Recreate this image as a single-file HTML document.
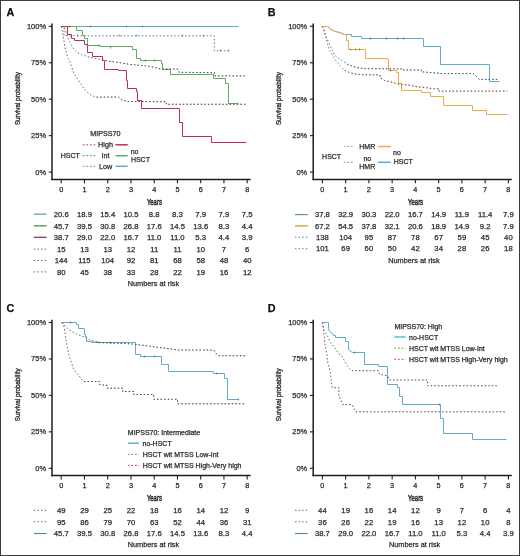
<!DOCTYPE html><html><head><meta charset="utf-8"><style>html,body{margin:0;padding:0;background:#fff;width:520px;height:556px;overflow:hidden}svg{will-change:transform}</style></head><body><svg xmlns="http://www.w3.org/2000/svg" width="520" height="556" viewBox="0 0 520 556" style="display:block">
<rect x="0" y="0" width="520" height="556" fill="#fff"/>
<g font-family='"Liberation Sans", sans-serif'>
<text x="6.60" y="15.90" font-size="10.8" text-anchor="start" font-weight="bold" fill="#111" stroke="#111" stroke-width="0.25" >A</text>
<line x1="52.00" y1="23.60" x2="52.00" y2="180.10" stroke="#1e1e1e" stroke-width="1.5"/>
<line x1="48.80" y1="26.30" x2="52.00" y2="26.30" stroke="#1e1e1e" stroke-width="1.1"/>
<text x="46.00" y="28.80" font-size="8" text-anchor="end" font-weight="normal" fill="#2b2b2b" stroke="#2b2b2b" stroke-width="0.25" textLength="19.03" lengthAdjust="spacingAndGlyphs">100%</text>
<line x1="48.80" y1="62.75" x2="52.00" y2="62.75" stroke="#1e1e1e" stroke-width="1.1"/>
<text x="46.00" y="65.25" font-size="8" text-anchor="end" font-weight="normal" fill="#2b2b2b" stroke="#2b2b2b" stroke-width="0.25" textLength="14.89" lengthAdjust="spacingAndGlyphs">75%</text>
<line x1="48.80" y1="99.20" x2="52.00" y2="99.20" stroke="#1e1e1e" stroke-width="1.1"/>
<text x="46.00" y="101.70" font-size="8" text-anchor="end" font-weight="normal" fill="#2b2b2b" stroke="#2b2b2b" stroke-width="0.25" textLength="14.89" lengthAdjust="spacingAndGlyphs">50%</text>
<line x1="48.80" y1="135.65" x2="52.00" y2="135.65" stroke="#1e1e1e" stroke-width="1.1"/>
<text x="46.00" y="138.15" font-size="8" text-anchor="end" font-weight="normal" fill="#2b2b2b" stroke="#2b2b2b" stroke-width="0.25" textLength="14.89" lengthAdjust="spacingAndGlyphs">25%</text>
<line x1="48.80" y1="172.10" x2="52.00" y2="172.10" stroke="#1e1e1e" stroke-width="1.1"/>
<text x="46.00" y="174.60" font-size="8" text-anchor="end" font-weight="normal" fill="#2b2b2b" stroke="#2b2b2b" stroke-width="0.25" textLength="10.75" lengthAdjust="spacingAndGlyphs">0%</text>
<line x1="51.25" y1="179.40" x2="250.60" y2="179.40" stroke="#1e1e1e" stroke-width="1.5"/>
<line x1="61.20" y1="179.40" x2="61.20" y2="183.20" stroke="#1e1e1e" stroke-width="1.1"/>
<text x="61.20" y="192.00" font-size="7.3" text-anchor="middle" font-weight="normal" fill="#2b2b2b" stroke="#2b2b2b" stroke-width="0.25" >0</text>
<line x1="84.45" y1="179.40" x2="84.45" y2="183.20" stroke="#1e1e1e" stroke-width="1.1"/>
<text x="84.45" y="192.00" font-size="7.3" text-anchor="middle" font-weight="normal" fill="#2b2b2b" stroke="#2b2b2b" stroke-width="0.25" >1</text>
<line x1="107.70" y1="179.40" x2="107.70" y2="183.20" stroke="#1e1e1e" stroke-width="1.1"/>
<text x="107.70" y="192.00" font-size="7.3" text-anchor="middle" font-weight="normal" fill="#2b2b2b" stroke="#2b2b2b" stroke-width="0.25" >2</text>
<line x1="130.95" y1="179.40" x2="130.95" y2="183.20" stroke="#1e1e1e" stroke-width="1.1"/>
<text x="130.95" y="192.00" font-size="7.3" text-anchor="middle" font-weight="normal" fill="#2b2b2b" stroke="#2b2b2b" stroke-width="0.25" >3</text>
<line x1="154.20" y1="179.40" x2="154.20" y2="183.20" stroke="#1e1e1e" stroke-width="1.1"/>
<text x="154.20" y="192.00" font-size="7.3" text-anchor="middle" font-weight="normal" fill="#2b2b2b" stroke="#2b2b2b" stroke-width="0.25" >4</text>
<line x1="177.45" y1="179.40" x2="177.45" y2="183.20" stroke="#1e1e1e" stroke-width="1.1"/>
<text x="177.45" y="192.00" font-size="7.3" text-anchor="middle" font-weight="normal" fill="#2b2b2b" stroke="#2b2b2b" stroke-width="0.25" >5</text>
<line x1="200.70" y1="179.40" x2="200.70" y2="183.20" stroke="#1e1e1e" stroke-width="1.1"/>
<text x="200.70" y="192.00" font-size="7.3" text-anchor="middle" font-weight="normal" fill="#2b2b2b" stroke="#2b2b2b" stroke-width="0.25" >6</text>
<line x1="223.95" y1="179.40" x2="223.95" y2="183.20" stroke="#1e1e1e" stroke-width="1.1"/>
<text x="223.95" y="192.00" font-size="7.3" text-anchor="middle" font-weight="normal" fill="#2b2b2b" stroke="#2b2b2b" stroke-width="0.25" >7</text>
<line x1="247.20" y1="179.40" x2="247.20" y2="183.20" stroke="#1e1e1e" stroke-width="1.1"/>
<text x="247.20" y="192.00" font-size="7.3" text-anchor="middle" font-weight="normal" fill="#2b2b2b" stroke="#2b2b2b" stroke-width="0.25" >8</text>
<text x="154.40" y="205.00" font-size="8.8" text-anchor="middle" fill="#2b2b2b" stroke="#2b2b2b" stroke-width="0.5" textLength="15" lengthAdjust="spacingAndGlyphs">Years</text>
<text x="0" y="0" font-size="8" text-anchor="middle" fill="#2b2b2b" stroke="#2b2b2b" stroke-width="0.35" transform="translate(20.10,98.60) rotate(-90)" textLength="53" lengthAdjust="spacingAndGlyphs">Survival probability</text>
<text x="61.20" y="216.80" font-size="7.7" text-anchor="middle" font-weight="normal" fill="#2b2b2b" stroke="#2b2b2b" stroke-width="0.25" >20.6</text>
<text x="84.45" y="216.80" font-size="7.7" text-anchor="middle" font-weight="normal" fill="#2b2b2b" stroke="#2b2b2b" stroke-width="0.25" >18.9</text>
<text x="107.70" y="216.80" font-size="7.7" text-anchor="middle" font-weight="normal" fill="#2b2b2b" stroke="#2b2b2b" stroke-width="0.25" >15.4</text>
<text x="130.95" y="216.80" font-size="7.7" text-anchor="middle" font-weight="normal" fill="#2b2b2b" stroke="#2b2b2b" stroke-width="0.25" >10.5</text>
<text x="154.20" y="216.80" font-size="7.7" text-anchor="middle" font-weight="normal" fill="#2b2b2b" stroke="#2b2b2b" stroke-width="0.25" >8.8</text>
<text x="177.45" y="216.80" font-size="7.7" text-anchor="middle" font-weight="normal" fill="#2b2b2b" stroke="#2b2b2b" stroke-width="0.25" >8.3</text>
<text x="200.70" y="216.80" font-size="7.7" text-anchor="middle" font-weight="normal" fill="#2b2b2b" stroke="#2b2b2b" stroke-width="0.25" >7.9</text>
<text x="223.95" y="216.80" font-size="7.7" text-anchor="middle" font-weight="normal" fill="#2b2b2b" stroke="#2b2b2b" stroke-width="0.25" >7.9</text>
<text x="247.20" y="216.80" font-size="7.7" text-anchor="middle" font-weight="normal" fill="#2b2b2b" stroke="#2b2b2b" stroke-width="0.25" >7.5</text>
<text x="61.20" y="228.50" font-size="7.7" text-anchor="middle" font-weight="normal" fill="#2b2b2b" stroke="#2b2b2b" stroke-width="0.25" >45.7</text>
<text x="84.45" y="228.50" font-size="7.7" text-anchor="middle" font-weight="normal" fill="#2b2b2b" stroke="#2b2b2b" stroke-width="0.25" >39.5</text>
<text x="107.70" y="228.50" font-size="7.7" text-anchor="middle" font-weight="normal" fill="#2b2b2b" stroke="#2b2b2b" stroke-width="0.25" >30.8</text>
<text x="130.95" y="228.50" font-size="7.7" text-anchor="middle" font-weight="normal" fill="#2b2b2b" stroke="#2b2b2b" stroke-width="0.25" >26.8</text>
<text x="154.20" y="228.50" font-size="7.7" text-anchor="middle" font-weight="normal" fill="#2b2b2b" stroke="#2b2b2b" stroke-width="0.25" >17.6</text>
<text x="177.45" y="228.50" font-size="7.7" text-anchor="middle" font-weight="normal" fill="#2b2b2b" stroke="#2b2b2b" stroke-width="0.25" >14.5</text>
<text x="200.70" y="228.50" font-size="7.7" text-anchor="middle" font-weight="normal" fill="#2b2b2b" stroke="#2b2b2b" stroke-width="0.25" >13.6</text>
<text x="223.95" y="228.50" font-size="7.7" text-anchor="middle" font-weight="normal" fill="#2b2b2b" stroke="#2b2b2b" stroke-width="0.25" >8.3</text>
<text x="247.20" y="228.50" font-size="7.7" text-anchor="middle" font-weight="normal" fill="#2b2b2b" stroke="#2b2b2b" stroke-width="0.25" >4.4</text>
<text x="61.20" y="240.00" font-size="7.7" text-anchor="middle" font-weight="normal" fill="#2b2b2b" stroke="#2b2b2b" stroke-width="0.25" >38.7</text>
<text x="84.45" y="240.00" font-size="7.7" text-anchor="middle" font-weight="normal" fill="#2b2b2b" stroke="#2b2b2b" stroke-width="0.25" >29.0</text>
<text x="107.70" y="240.00" font-size="7.7" text-anchor="middle" font-weight="normal" fill="#2b2b2b" stroke="#2b2b2b" stroke-width="0.25" >22.0</text>
<text x="130.95" y="240.00" font-size="7.7" text-anchor="middle" font-weight="normal" fill="#2b2b2b" stroke="#2b2b2b" stroke-width="0.25" >16.7</text>
<text x="154.20" y="240.00" font-size="7.7" text-anchor="middle" font-weight="normal" fill="#2b2b2b" stroke="#2b2b2b" stroke-width="0.25" >11.0</text>
<text x="177.45" y="240.00" font-size="7.7" text-anchor="middle" font-weight="normal" fill="#2b2b2b" stroke="#2b2b2b" stroke-width="0.25" >11.0</text>
<text x="200.70" y="240.00" font-size="7.7" text-anchor="middle" font-weight="normal" fill="#2b2b2b" stroke="#2b2b2b" stroke-width="0.25" >5.3</text>
<text x="223.95" y="240.00" font-size="7.7" text-anchor="middle" font-weight="normal" fill="#2b2b2b" stroke="#2b2b2b" stroke-width="0.25" >4.4</text>
<text x="247.20" y="240.00" font-size="7.7" text-anchor="middle" font-weight="normal" fill="#2b2b2b" stroke="#2b2b2b" stroke-width="0.25" >3.9</text>
<text x="61.20" y="251.80" font-size="7.7" text-anchor="middle" font-weight="normal" fill="#2b2b2b" stroke="#2b2b2b" stroke-width="0.25" >15</text>
<text x="84.45" y="251.80" font-size="7.7" text-anchor="middle" font-weight="normal" fill="#2b2b2b" stroke="#2b2b2b" stroke-width="0.25" >13</text>
<text x="107.70" y="251.80" font-size="7.7" text-anchor="middle" font-weight="normal" fill="#2b2b2b" stroke="#2b2b2b" stroke-width="0.25" >13</text>
<text x="130.95" y="251.80" font-size="7.7" text-anchor="middle" font-weight="normal" fill="#2b2b2b" stroke="#2b2b2b" stroke-width="0.25" >12</text>
<text x="154.20" y="251.80" font-size="7.7" text-anchor="middle" font-weight="normal" fill="#2b2b2b" stroke="#2b2b2b" stroke-width="0.25" >11</text>
<text x="177.45" y="251.80" font-size="7.7" text-anchor="middle" font-weight="normal" fill="#2b2b2b" stroke="#2b2b2b" stroke-width="0.25" >11</text>
<text x="200.70" y="251.80" font-size="7.7" text-anchor="middle" font-weight="normal" fill="#2b2b2b" stroke="#2b2b2b" stroke-width="0.25" >10</text>
<text x="223.95" y="251.80" font-size="7.7" text-anchor="middle" font-weight="normal" fill="#2b2b2b" stroke="#2b2b2b" stroke-width="0.25" >7</text>
<text x="247.20" y="251.80" font-size="7.7" text-anchor="middle" font-weight="normal" fill="#2b2b2b" stroke="#2b2b2b" stroke-width="0.25" >6</text>
<text x="61.20" y="263.20" font-size="7.7" text-anchor="middle" font-weight="normal" fill="#2b2b2b" stroke="#2b2b2b" stroke-width="0.25" >144</text>
<text x="84.45" y="263.20" font-size="7.7" text-anchor="middle" font-weight="normal" fill="#2b2b2b" stroke="#2b2b2b" stroke-width="0.25" >115</text>
<text x="107.70" y="263.20" font-size="7.7" text-anchor="middle" font-weight="normal" fill="#2b2b2b" stroke="#2b2b2b" stroke-width="0.25" >104</text>
<text x="130.95" y="263.20" font-size="7.7" text-anchor="middle" font-weight="normal" fill="#2b2b2b" stroke="#2b2b2b" stroke-width="0.25" >92</text>
<text x="154.20" y="263.20" font-size="7.7" text-anchor="middle" font-weight="normal" fill="#2b2b2b" stroke="#2b2b2b" stroke-width="0.25" >81</text>
<text x="177.45" y="263.20" font-size="7.7" text-anchor="middle" font-weight="normal" fill="#2b2b2b" stroke="#2b2b2b" stroke-width="0.25" >68</text>
<text x="200.70" y="263.20" font-size="7.7" text-anchor="middle" font-weight="normal" fill="#2b2b2b" stroke="#2b2b2b" stroke-width="0.25" >58</text>
<text x="223.95" y="263.20" font-size="7.7" text-anchor="middle" font-weight="normal" fill="#2b2b2b" stroke="#2b2b2b" stroke-width="0.25" >48</text>
<text x="247.20" y="263.20" font-size="7.7" text-anchor="middle" font-weight="normal" fill="#2b2b2b" stroke="#2b2b2b" stroke-width="0.25" >40</text>
<text x="61.20" y="274.60" font-size="7.7" text-anchor="middle" font-weight="normal" fill="#2b2b2b" stroke="#2b2b2b" stroke-width="0.25" >80</text>
<text x="84.45" y="274.60" font-size="7.7" text-anchor="middle" font-weight="normal" fill="#2b2b2b" stroke="#2b2b2b" stroke-width="0.25" >45</text>
<text x="107.70" y="274.60" font-size="7.7" text-anchor="middle" font-weight="normal" fill="#2b2b2b" stroke="#2b2b2b" stroke-width="0.25" >38</text>
<text x="130.95" y="274.60" font-size="7.7" text-anchor="middle" font-weight="normal" fill="#2b2b2b" stroke="#2b2b2b" stroke-width="0.25" >33</text>
<text x="154.20" y="274.60" font-size="7.7" text-anchor="middle" font-weight="normal" fill="#2b2b2b" stroke="#2b2b2b" stroke-width="0.25" >28</text>
<text x="177.45" y="274.60" font-size="7.7" text-anchor="middle" font-weight="normal" fill="#2b2b2b" stroke="#2b2b2b" stroke-width="0.25" >22</text>
<text x="200.70" y="274.60" font-size="7.7" text-anchor="middle" font-weight="normal" fill="#2b2b2b" stroke="#2b2b2b" stroke-width="0.25" >19</text>
<text x="223.95" y="274.60" font-size="7.7" text-anchor="middle" font-weight="normal" fill="#2b2b2b" stroke="#2b2b2b" stroke-width="0.25" >16</text>
<text x="247.20" y="274.60" font-size="7.7" text-anchor="middle" font-weight="normal" fill="#2b2b2b" stroke="#2b2b2b" stroke-width="0.25" >12</text>
<line x1="33.80" y1="214.10" x2="46.60" y2="214.10" stroke="#4f88ac" stroke-width="1.1"/>
<line x1="33.80" y1="225.80" x2="46.60" y2="225.80" stroke="#55985a" stroke-width="1.4"/>
<line x1="33.80" y1="237.30" x2="46.60" y2="237.30" stroke="#8e2c4a" stroke-width="1.2"/>
<line x1="33.80" y1="249.10" x2="46.60" y2="249.10" stroke="#4f7d98" stroke-width="1.0" stroke-dasharray="1.5 2.1"/>
<line x1="33.80" y1="260.50" x2="46.60" y2="260.50" stroke="#4f8050" stroke-width="1.0" stroke-dasharray="1.5 2.1"/>
<line x1="33.80" y1="271.90" x2="46.60" y2="271.90" stroke="#99506a" stroke-width="1.0" stroke-dasharray="1.5 2.1"/>
<text x="153.40" y="286.00" font-size="7.35" text-anchor="middle" font-weight="normal" fill="#2b2b2b" stroke="#2b2b2b" stroke-width="0.25" >Numbers at risk</text>
<path d="M61.5,26.5 H238.5" fill="none" stroke="#62abd0" stroke-width="1.0" stroke-linejoin="miter"/>
<path d="M61.2,26.4 H64 V35.8 H214.3 V50.8 H228.9" fill="none" stroke="#4f7d98" stroke-width="1.0" stroke-linejoin="miter" stroke-dasharray="1.5 2.1"/>
<path d="M61.5,26.5 H76.5 V30.5 H82.5 V35.5 H84.5 V38.5 H87.5 V45.5 H100.5 V46.5 H132.5 V49.5 H136.5 V58.5 H140.5 V60.5 H161.5 V63.5 H162.5 V69.5 H170.5 V74.5 H213.5 V78.5 H225.5 V83.5 H228.5 V103.5 H238.5" fill="none" stroke="#5eae5e" stroke-width="1.0" stroke-linejoin="miter"/>
<path d="M61.5,26.5 H67.5 V34.5 H71.5 V38.5 H74.5 V40.5 H84.5 V44.5 H87.5 V52.5 H92.5 V56.5 H102.5 V60.5 H104.5 V69.5 H118.5 V70.5 H126.5 V80.5 H127.5 V88.5 H136.5 V91.5 H137.5 V100.5 H141.5 V108.5 H179.5 V122.5 H182.5 V136.5 H211.5 V142.5 H246.5" fill="none" stroke="#bf2e50" stroke-width="1.0" stroke-linejoin="miter"/>
<path d="M61.20,26.40 L62.00,29.30 L63.00,35.00 L63.80,39.40 L64.80,46.60 L66.60,53.80 L68.20,58.50 L70.20,62.40 L72.00,68.00 L73.70,73.00 L76.50,77.50 L79.60,82.00 L82.50,86.50 L85.90,91.00 L90.00,94.50 L95.40,97.20 L118.50,97.00 L121.50,99.70 L127.70,101.50 L166.25,101.75 L166.25,104.25 L246.00,104.25" fill="none" stroke="#99506a" stroke-width="1.0" stroke-linejoin="miter" stroke-dasharray="1.5 2.1"/>
<clipPath id="cp1"><rect x="95" y="0" width="425" height="556"/></clipPath>
<path d="M61.20,26.40 L62.00,29.30 L63.00,35.00 L63.80,39.40 L64.80,46.60 L66.60,53.80 L68.20,58.50 L70.20,62.40 L72.00,68.00 L73.70,73.00 L76.50,77.50 L79.60,82.00 L82.50,86.50 L85.90,91.00 L90.00,94.50 L95.40,97.20 L118.50,97.00 L121.50,99.70 L127.70,101.50 L166.25,101.75 L166.25,104.25 L246.00,104.25" fill="none" stroke="#222" stroke-opacity="0.42" stroke-width="1.0" stroke-dasharray="1.5 2.1" clip-path="url(#cp1)"/>
<path d="M61.20,26.40 L63.20,26.80 L64.50,28.20 L67.40,35.80 L69.50,41.50 L73.10,48.00 L76.70,52.30 L81.70,54.50 L87.50,56.70 L98.50,59.20 L110.80,61.50 L121.50,63.00 L130.00,64.40 L145.40,65.80 L153.00,67.00 L160.80,69.00 L177.70,69.00 L179.00,72.30 L214.30,72.70 L214.30,75.90 L246.00,75.90" fill="none" stroke="#4f8050" stroke-width="1.0" stroke-linejoin="miter" stroke-dasharray="1.5 2.1"/>
<clipPath id="cp2"><rect x="100" y="0" width="420" height="556"/></clipPath>
<path d="M61.20,26.40 L63.20,26.80 L64.50,28.20 L67.40,35.80 L69.50,41.50 L73.10,48.00 L76.70,52.30 L81.70,54.50 L87.50,56.70 L98.50,59.20 L110.80,61.50 L121.50,63.00 L130.00,64.40 L145.40,65.80 L153.00,67.00 L160.80,69.00 L177.70,69.00 L179.00,72.30 L214.30,72.70 L214.30,75.90 L246.00,75.90" fill="none" stroke="#222" stroke-opacity="0.42" stroke-width="1.0" stroke-dasharray="1.5 2.1" clip-path="url(#cp2)"/>
<text x="90.20" y="136.10" font-size="7.2" text-anchor="start" font-weight="normal" fill="#2b2b2b" stroke="#2b2b2b" stroke-width="0.25" >MIPSS70</text>
<line x1="82.70" y1="144.80" x2="96.00" y2="144.80" stroke="#b44060" stroke-width="1.0" stroke-dasharray="1.8 1.8"/>
<text x="105.50" y="147.10" font-size="7.2" text-anchor="middle" font-weight="normal" fill="#2b2b2b" stroke="#2b2b2b" stroke-width="0.25" >High</text>
<line x1="115.60" y1="144.80" x2="127.70" y2="144.80" stroke="#bf2e50" stroke-width="1.5"/>
<line x1="82.70" y1="155.70" x2="96.00" y2="155.70" stroke="#5c985c" stroke-width="1.0" stroke-dasharray="1.8 1.8"/>
<text x="105.50" y="158.00" font-size="7.2" text-anchor="middle" font-weight="normal" fill="#2b2b2b" stroke="#2b2b2b" stroke-width="0.25" >Int</text>
<line x1="115.60" y1="155.70" x2="127.70" y2="155.70" stroke="#5eae5e" stroke-width="1.5"/>
<line x1="82.70" y1="166.30" x2="96.00" y2="166.30" stroke="#5a98bc" stroke-width="1.0" stroke-dasharray="1.8 1.8"/>
<text x="105.50" y="168.60" font-size="7.2" text-anchor="middle" font-weight="normal" fill="#2b2b2b" stroke="#2b2b2b" stroke-width="0.25" >Low</text>
<line x1="115.60" y1="166.30" x2="127.70" y2="166.30" stroke="#62abd0" stroke-width="1.5"/>
<text x="60.80" y="157.80" font-size="7.0" text-anchor="start" font-weight="normal" fill="#2b2b2b" stroke="#2b2b2b" stroke-width="0.25" >HSCT</text>
<text x="130.70" y="153.90" font-size="7.0" text-anchor="start" font-weight="normal" fill="#2b2b2b" stroke="#2b2b2b" stroke-width="0.25" >no</text>
<text x="130.90" y="162.20" font-size="7.0" text-anchor="start" font-weight="normal" fill="#2b2b2b" stroke="#2b2b2b" stroke-width="0.25" >HSCT</text>
<text x="267.80" y="15.90" font-size="10.8" text-anchor="start" font-weight="bold" fill="#111" stroke="#111" stroke-width="0.25" >B</text>
<line x1="313.20" y1="23.60" x2="313.20" y2="180.10" stroke="#1e1e1e" stroke-width="1.5"/>
<line x1="310.00" y1="26.30" x2="313.20" y2="26.30" stroke="#1e1e1e" stroke-width="1.1"/>
<text x="307.20" y="28.80" font-size="8" text-anchor="end" font-weight="normal" fill="#2b2b2b" stroke="#2b2b2b" stroke-width="0.25" textLength="19.03" lengthAdjust="spacingAndGlyphs">100%</text>
<line x1="310.00" y1="62.75" x2="313.20" y2="62.75" stroke="#1e1e1e" stroke-width="1.1"/>
<text x="307.20" y="65.25" font-size="8" text-anchor="end" font-weight="normal" fill="#2b2b2b" stroke="#2b2b2b" stroke-width="0.25" textLength="14.89" lengthAdjust="spacingAndGlyphs">75%</text>
<line x1="310.00" y1="99.20" x2="313.20" y2="99.20" stroke="#1e1e1e" stroke-width="1.1"/>
<text x="307.20" y="101.70" font-size="8" text-anchor="end" font-weight="normal" fill="#2b2b2b" stroke="#2b2b2b" stroke-width="0.25" textLength="14.89" lengthAdjust="spacingAndGlyphs">50%</text>
<line x1="310.00" y1="135.65" x2="313.20" y2="135.65" stroke="#1e1e1e" stroke-width="1.1"/>
<text x="307.20" y="138.15" font-size="8" text-anchor="end" font-weight="normal" fill="#2b2b2b" stroke="#2b2b2b" stroke-width="0.25" textLength="14.89" lengthAdjust="spacingAndGlyphs">25%</text>
<line x1="310.00" y1="172.10" x2="313.20" y2="172.10" stroke="#1e1e1e" stroke-width="1.1"/>
<text x="307.20" y="174.60" font-size="8" text-anchor="end" font-weight="normal" fill="#2b2b2b" stroke="#2b2b2b" stroke-width="0.25" textLength="10.75" lengthAdjust="spacingAndGlyphs">0%</text>
<line x1="312.45" y1="179.40" x2="511.80" y2="179.40" stroke="#1e1e1e" stroke-width="1.5"/>
<line x1="322.40" y1="179.40" x2="322.40" y2="183.20" stroke="#1e1e1e" stroke-width="1.1"/>
<text x="322.40" y="192.00" font-size="7.3" text-anchor="middle" font-weight="normal" fill="#2b2b2b" stroke="#2b2b2b" stroke-width="0.25" >0</text>
<line x1="345.65" y1="179.40" x2="345.65" y2="183.20" stroke="#1e1e1e" stroke-width="1.1"/>
<text x="345.65" y="192.00" font-size="7.3" text-anchor="middle" font-weight="normal" fill="#2b2b2b" stroke="#2b2b2b" stroke-width="0.25" >1</text>
<line x1="368.90" y1="179.40" x2="368.90" y2="183.20" stroke="#1e1e1e" stroke-width="1.1"/>
<text x="368.90" y="192.00" font-size="7.3" text-anchor="middle" font-weight="normal" fill="#2b2b2b" stroke="#2b2b2b" stroke-width="0.25" >2</text>
<line x1="392.15" y1="179.40" x2="392.15" y2="183.20" stroke="#1e1e1e" stroke-width="1.1"/>
<text x="392.15" y="192.00" font-size="7.3" text-anchor="middle" font-weight="normal" fill="#2b2b2b" stroke="#2b2b2b" stroke-width="0.25" >3</text>
<line x1="415.40" y1="179.40" x2="415.40" y2="183.20" stroke="#1e1e1e" stroke-width="1.1"/>
<text x="415.40" y="192.00" font-size="7.3" text-anchor="middle" font-weight="normal" fill="#2b2b2b" stroke="#2b2b2b" stroke-width="0.25" >4</text>
<line x1="438.65" y1="179.40" x2="438.65" y2="183.20" stroke="#1e1e1e" stroke-width="1.1"/>
<text x="438.65" y="192.00" font-size="7.3" text-anchor="middle" font-weight="normal" fill="#2b2b2b" stroke="#2b2b2b" stroke-width="0.25" >5</text>
<line x1="461.90" y1="179.40" x2="461.90" y2="183.20" stroke="#1e1e1e" stroke-width="1.1"/>
<text x="461.90" y="192.00" font-size="7.3" text-anchor="middle" font-weight="normal" fill="#2b2b2b" stroke="#2b2b2b" stroke-width="0.25" >6</text>
<line x1="485.15" y1="179.40" x2="485.15" y2="183.20" stroke="#1e1e1e" stroke-width="1.1"/>
<text x="485.15" y="192.00" font-size="7.3" text-anchor="middle" font-weight="normal" fill="#2b2b2b" stroke="#2b2b2b" stroke-width="0.25" >7</text>
<line x1="508.40" y1="179.40" x2="508.40" y2="183.20" stroke="#1e1e1e" stroke-width="1.1"/>
<text x="508.40" y="192.00" font-size="7.3" text-anchor="middle" font-weight="normal" fill="#2b2b2b" stroke="#2b2b2b" stroke-width="0.25" >8</text>
<text x="415.60" y="205.00" font-size="8.8" text-anchor="middle" fill="#2b2b2b" stroke="#2b2b2b" stroke-width="0.5" textLength="15" lengthAdjust="spacingAndGlyphs">Years</text>
<text x="0" y="0" font-size="8" text-anchor="middle" fill="#2b2b2b" stroke="#2b2b2b" stroke-width="0.35" transform="translate(281.30,98.60) rotate(-90)" textLength="53" lengthAdjust="spacingAndGlyphs">Survival probability</text>
<text x="322.40" y="217.30" font-size="7.7" text-anchor="middle" font-weight="normal" fill="#2b2b2b" stroke="#2b2b2b" stroke-width="0.25" >37.8</text>
<text x="345.65" y="217.30" font-size="7.7" text-anchor="middle" font-weight="normal" fill="#2b2b2b" stroke="#2b2b2b" stroke-width="0.25" >32.9</text>
<text x="368.90" y="217.30" font-size="7.7" text-anchor="middle" font-weight="normal" fill="#2b2b2b" stroke="#2b2b2b" stroke-width="0.25" >30.3</text>
<text x="392.15" y="217.30" font-size="7.7" text-anchor="middle" font-weight="normal" fill="#2b2b2b" stroke="#2b2b2b" stroke-width="0.25" >22.0</text>
<text x="415.40" y="217.30" font-size="7.7" text-anchor="middle" font-weight="normal" fill="#2b2b2b" stroke="#2b2b2b" stroke-width="0.25" >16.7</text>
<text x="438.65" y="217.30" font-size="7.7" text-anchor="middle" font-weight="normal" fill="#2b2b2b" stroke="#2b2b2b" stroke-width="0.25" >14.9</text>
<text x="461.90" y="217.30" font-size="7.7" text-anchor="middle" font-weight="normal" fill="#2b2b2b" stroke="#2b2b2b" stroke-width="0.25" >11.9</text>
<text x="485.15" y="217.30" font-size="7.7" text-anchor="middle" font-weight="normal" fill="#2b2b2b" stroke="#2b2b2b" stroke-width="0.25" >11.4</text>
<text x="508.40" y="217.30" font-size="7.7" text-anchor="middle" font-weight="normal" fill="#2b2b2b" stroke="#2b2b2b" stroke-width="0.25" >7.9</text>
<text x="322.40" y="228.60" font-size="7.7" text-anchor="middle" font-weight="normal" fill="#2b2b2b" stroke="#2b2b2b" stroke-width="0.25" >67.2</text>
<text x="345.65" y="228.60" font-size="7.7" text-anchor="middle" font-weight="normal" fill="#2b2b2b" stroke="#2b2b2b" stroke-width="0.25" >54.5</text>
<text x="368.90" y="228.60" font-size="7.7" text-anchor="middle" font-weight="normal" fill="#2b2b2b" stroke="#2b2b2b" stroke-width="0.25" >37.8</text>
<text x="392.15" y="228.60" font-size="7.7" text-anchor="middle" font-weight="normal" fill="#2b2b2b" stroke="#2b2b2b" stroke-width="0.25" >32.1</text>
<text x="415.40" y="228.60" font-size="7.7" text-anchor="middle" font-weight="normal" fill="#2b2b2b" stroke="#2b2b2b" stroke-width="0.25" >20.6</text>
<text x="438.65" y="228.60" font-size="7.7" text-anchor="middle" font-weight="normal" fill="#2b2b2b" stroke="#2b2b2b" stroke-width="0.25" >18.9</text>
<text x="461.90" y="228.60" font-size="7.7" text-anchor="middle" font-weight="normal" fill="#2b2b2b" stroke="#2b2b2b" stroke-width="0.25" >14.9</text>
<text x="485.15" y="228.60" font-size="7.7" text-anchor="middle" font-weight="normal" fill="#2b2b2b" stroke="#2b2b2b" stroke-width="0.25" >9.2</text>
<text x="508.40" y="228.60" font-size="7.7" text-anchor="middle" font-weight="normal" fill="#2b2b2b" stroke="#2b2b2b" stroke-width="0.25" >7.9</text>
<text x="322.40" y="239.90" font-size="7.7" text-anchor="middle" font-weight="normal" fill="#2b2b2b" stroke="#2b2b2b" stroke-width="0.25" >138</text>
<text x="345.65" y="239.90" font-size="7.7" text-anchor="middle" font-weight="normal" fill="#2b2b2b" stroke="#2b2b2b" stroke-width="0.25" >104</text>
<text x="368.90" y="239.90" font-size="7.7" text-anchor="middle" font-weight="normal" fill="#2b2b2b" stroke="#2b2b2b" stroke-width="0.25" >95</text>
<text x="392.15" y="239.90" font-size="7.7" text-anchor="middle" font-weight="normal" fill="#2b2b2b" stroke="#2b2b2b" stroke-width="0.25" >87</text>
<text x="415.40" y="239.90" font-size="7.7" text-anchor="middle" font-weight="normal" fill="#2b2b2b" stroke="#2b2b2b" stroke-width="0.25" >78</text>
<text x="438.65" y="239.90" font-size="7.7" text-anchor="middle" font-weight="normal" fill="#2b2b2b" stroke="#2b2b2b" stroke-width="0.25" >67</text>
<text x="461.90" y="239.90" font-size="7.7" text-anchor="middle" font-weight="normal" fill="#2b2b2b" stroke="#2b2b2b" stroke-width="0.25" >59</text>
<text x="485.15" y="239.90" font-size="7.7" text-anchor="middle" font-weight="normal" fill="#2b2b2b" stroke="#2b2b2b" stroke-width="0.25" >45</text>
<text x="508.40" y="239.90" font-size="7.7" text-anchor="middle" font-weight="normal" fill="#2b2b2b" stroke="#2b2b2b" stroke-width="0.25" >40</text>
<text x="322.40" y="251.40" font-size="7.7" text-anchor="middle" font-weight="normal" fill="#2b2b2b" stroke="#2b2b2b" stroke-width="0.25" >101</text>
<text x="345.65" y="251.40" font-size="7.7" text-anchor="middle" font-weight="normal" fill="#2b2b2b" stroke="#2b2b2b" stroke-width="0.25" >69</text>
<text x="368.90" y="251.40" font-size="7.7" text-anchor="middle" font-weight="normal" fill="#2b2b2b" stroke="#2b2b2b" stroke-width="0.25" >60</text>
<text x="392.15" y="251.40" font-size="7.7" text-anchor="middle" font-weight="normal" fill="#2b2b2b" stroke="#2b2b2b" stroke-width="0.25" >50</text>
<text x="415.40" y="251.40" font-size="7.7" text-anchor="middle" font-weight="normal" fill="#2b2b2b" stroke="#2b2b2b" stroke-width="0.25" >42</text>
<text x="438.65" y="251.40" font-size="7.7" text-anchor="middle" font-weight="normal" fill="#2b2b2b" stroke="#2b2b2b" stroke-width="0.25" >34</text>
<text x="461.90" y="251.40" font-size="7.7" text-anchor="middle" font-weight="normal" fill="#2b2b2b" stroke="#2b2b2b" stroke-width="0.25" >28</text>
<text x="485.15" y="251.40" font-size="7.7" text-anchor="middle" font-weight="normal" fill="#2b2b2b" stroke="#2b2b2b" stroke-width="0.25" >26</text>
<text x="508.40" y="251.40" font-size="7.7" text-anchor="middle" font-weight="normal" fill="#2b2b2b" stroke="#2b2b2b" stroke-width="0.25" >18</text>
<line x1="295.00" y1="214.60" x2="307.80" y2="214.60" stroke="#4f88ac" stroke-width="1.1"/>
<line x1="295.00" y1="225.90" x2="307.80" y2="225.90" stroke="#d8a04c" stroke-width="1.4"/>
<line x1="295.00" y1="237.20" x2="307.80" y2="237.20" stroke="#4f7d98" stroke-width="1.0" stroke-dasharray="1.5 2.1"/>
<line x1="295.00" y1="248.70" x2="307.80" y2="248.70" stroke="#9a7a48" stroke-width="1.0" stroke-dasharray="1.5 2.1"/>
<text x="413.90" y="263.10" font-size="7.35" text-anchor="middle" font-weight="normal" fill="#2b2b2b" stroke="#2b2b2b" stroke-width="0.25" >Numbers at risk</text>
<path d="M322.5,26.5 H328.5 L330.5,29.5 L335.5,31.5 L339.5,32.5 L344.5,34.5 H351.5 V36.5 H361.5 V38.5 H423.5 V46.5 H440.5 V64.5 H489.5 V81.5 H499.5" fill="none" stroke="#62abd0" stroke-width="1.0" stroke-linejoin="miter"/>
<path d="M322.5,26.5 H328.5 L330.5,29.5 L335.5,31.5 L339.5,32.5 L344.5,34.5 H346.5 V40.5 H348.5 V49.5 H365.5 V58.5 H387.5 V59.5 H388.5 V70.5 H396.5 V72.5 H398.5 V83.5 H401.5 V90.5 H421.5 V92.5 H430.5 V96.5 H443.5 V105.5 H472.5 V110.5 H486.5 V114.5 H507.5" fill="none" stroke="#eeab45" stroke-width="1.0" stroke-linejoin="miter"/>
<path d="M322.30,26.40 L323.80,28.50 L325.90,35.70 L328.80,42.90 L331.70,49.30 L334.50,55.10 L338.10,58.00 L342.50,60.80 L347.40,64.30 L356.00,67.50 L363.60,68.60 L403.00,68.90 L403.00,70.00 L421.50,70.00 L421.50,71.80 L442.60,73.60 L473.20,73.60 L477.70,77.60 L479.00,79.40 L499.30,79.40" fill="none" stroke="#4f7d98" stroke-width="1.0" stroke-linejoin="miter" stroke-dasharray="1.5 2.1"/>
<clipPath id="cp3"><rect x="345" y="0" width="175" height="556"/></clipPath>
<path d="M322.30,26.40 L323.80,28.50 L325.90,35.70 L328.80,42.90 L331.70,49.30 L334.50,55.10 L338.10,58.00 L342.50,60.80 L347.40,64.30 L356.00,67.50 L363.60,68.60 L403.00,68.90 L403.00,70.00 L421.50,70.00 L421.50,71.80 L442.60,73.60 L473.20,73.60 L477.70,77.60 L479.00,79.40 L499.30,79.40" fill="none" stroke="#222" stroke-opacity="0.42" stroke-width="1.0" stroke-dasharray="1.5 2.1" clip-path="url(#cp3)"/>
<path d="M322.30,26.40 L322.80,28.00 L324.80,34.20 L327.40,43.60 L329.50,50.80 L333.10,56.50 L336.00,60.80 L340.00,66.00 L344.20,70.20 L350.60,72.90 L358.00,74.50 L380.00,75.00 L380.00,77.70 L384.60,80.50 L392.30,82.30 L397.00,83.80 L410.80,85.40 L415.40,86.50 L426.20,87.70 L433.80,88.80 L439.00,88.80 L439.00,91.10 L507.40,91.10" fill="none" stroke="#9a7a48" stroke-width="1.0" stroke-linejoin="miter" stroke-dasharray="1.5 2.1"/>
<clipPath id="cp4"><rect x="345" y="0" width="175" height="556"/></clipPath>
<path d="M322.30,26.40 L322.80,28.00 L324.80,34.20 L327.40,43.60 L329.50,50.80 L333.10,56.50 L336.00,60.80 L340.00,66.00 L344.20,70.20 L350.60,72.90 L358.00,74.50 L380.00,75.00 L380.00,77.70 L384.60,80.50 L392.30,82.30 L397.00,83.80 L410.80,85.40 L415.40,86.50 L426.20,87.70 L433.80,88.80 L439.00,88.80 L439.00,91.10 L507.40,91.10" fill="none" stroke="#222" stroke-opacity="0.42" stroke-width="1.0" stroke-dasharray="1.5 2.1" clip-path="url(#cp4)"/>
<text x="322.10" y="159.30" font-size="7.0" text-anchor="start" font-weight="normal" fill="#2b2b2b" stroke="#2b2b2b" stroke-width="0.25" >HSCT</text>
<line x1="343.70" y1="146.50" x2="354.60" y2="146.50" stroke="#c09a60" stroke-width="1.0" stroke-dasharray="1.8 1.8"/>
<text x="367.30" y="149.20" font-size="7.0" text-anchor="middle" font-weight="normal" fill="#2b2b2b" stroke="#2b2b2b" stroke-width="0.25" >HMR</text>
<line x1="378.10" y1="146.50" x2="390.80" y2="146.50" stroke="#eeab45" stroke-width="1.5"/>
<text x="367.30" y="160.50" font-size="7.0" text-anchor="middle" font-weight="normal" fill="#2b2b2b" stroke="#2b2b2b" stroke-width="0.25" >no</text>
<line x1="343.70" y1="162.30" x2="354.60" y2="162.30" stroke="#5a98bc" stroke-width="1.0" stroke-dasharray="1.8 1.8"/>
<text x="367.30" y="169.10" font-size="7.0" text-anchor="middle" font-weight="normal" fill="#2b2b2b" stroke="#2b2b2b" stroke-width="0.25" >HMR</text>
<line x1="378.10" y1="162.30" x2="390.80" y2="162.30" stroke="#62abd0" stroke-width="1.5"/>
<text x="393.10" y="154.90" font-size="7.0" text-anchor="start" font-weight="normal" fill="#2b2b2b" stroke="#2b2b2b" stroke-width="0.25" >no</text>
<text x="393.70" y="163.70" font-size="7.0" text-anchor="start" font-weight="normal" fill="#2b2b2b" stroke="#2b2b2b" stroke-width="0.25" >HSCT</text>
<text x="6.60" y="312.10" font-size="10.8" text-anchor="start" font-weight="bold" fill="#111" stroke="#111" stroke-width="0.25" >C</text>
<line x1="52.00" y1="319.80" x2="52.00" y2="476.30" stroke="#1e1e1e" stroke-width="1.5"/>
<line x1="48.80" y1="322.50" x2="52.00" y2="322.50" stroke="#1e1e1e" stroke-width="1.1"/>
<text x="46.00" y="325.00" font-size="8" text-anchor="end" font-weight="normal" fill="#2b2b2b" stroke="#2b2b2b" stroke-width="0.25" textLength="19.03" lengthAdjust="spacingAndGlyphs">100%</text>
<line x1="48.80" y1="358.95" x2="52.00" y2="358.95" stroke="#1e1e1e" stroke-width="1.1"/>
<text x="46.00" y="361.45" font-size="8" text-anchor="end" font-weight="normal" fill="#2b2b2b" stroke="#2b2b2b" stroke-width="0.25" textLength="14.89" lengthAdjust="spacingAndGlyphs">75%</text>
<line x1="48.80" y1="395.40" x2="52.00" y2="395.40" stroke="#1e1e1e" stroke-width="1.1"/>
<text x="46.00" y="397.90" font-size="8" text-anchor="end" font-weight="normal" fill="#2b2b2b" stroke="#2b2b2b" stroke-width="0.25" textLength="14.89" lengthAdjust="spacingAndGlyphs">50%</text>
<line x1="48.80" y1="431.85" x2="52.00" y2="431.85" stroke="#1e1e1e" stroke-width="1.1"/>
<text x="46.00" y="434.35" font-size="8" text-anchor="end" font-weight="normal" fill="#2b2b2b" stroke="#2b2b2b" stroke-width="0.25" textLength="14.89" lengthAdjust="spacingAndGlyphs">25%</text>
<line x1="48.80" y1="468.30" x2="52.00" y2="468.30" stroke="#1e1e1e" stroke-width="1.1"/>
<text x="46.00" y="470.80" font-size="8" text-anchor="end" font-weight="normal" fill="#2b2b2b" stroke="#2b2b2b" stroke-width="0.25" textLength="10.75" lengthAdjust="spacingAndGlyphs">0%</text>
<line x1="51.25" y1="475.60" x2="250.60" y2="475.60" stroke="#1e1e1e" stroke-width="1.5"/>
<line x1="61.20" y1="475.60" x2="61.20" y2="479.40" stroke="#1e1e1e" stroke-width="1.1"/>
<text x="61.20" y="488.20" font-size="7.3" text-anchor="middle" font-weight="normal" fill="#2b2b2b" stroke="#2b2b2b" stroke-width="0.25" >0</text>
<line x1="84.45" y1="475.60" x2="84.45" y2="479.40" stroke="#1e1e1e" stroke-width="1.1"/>
<text x="84.45" y="488.20" font-size="7.3" text-anchor="middle" font-weight="normal" fill="#2b2b2b" stroke="#2b2b2b" stroke-width="0.25" >1</text>
<line x1="107.70" y1="475.60" x2="107.70" y2="479.40" stroke="#1e1e1e" stroke-width="1.1"/>
<text x="107.70" y="488.20" font-size="7.3" text-anchor="middle" font-weight="normal" fill="#2b2b2b" stroke="#2b2b2b" stroke-width="0.25" >2</text>
<line x1="130.95" y1="475.60" x2="130.95" y2="479.40" stroke="#1e1e1e" stroke-width="1.1"/>
<text x="130.95" y="488.20" font-size="7.3" text-anchor="middle" font-weight="normal" fill="#2b2b2b" stroke="#2b2b2b" stroke-width="0.25" >3</text>
<line x1="154.20" y1="475.60" x2="154.20" y2="479.40" stroke="#1e1e1e" stroke-width="1.1"/>
<text x="154.20" y="488.20" font-size="7.3" text-anchor="middle" font-weight="normal" fill="#2b2b2b" stroke="#2b2b2b" stroke-width="0.25" >4</text>
<line x1="177.45" y1="475.60" x2="177.45" y2="479.40" stroke="#1e1e1e" stroke-width="1.1"/>
<text x="177.45" y="488.20" font-size="7.3" text-anchor="middle" font-weight="normal" fill="#2b2b2b" stroke="#2b2b2b" stroke-width="0.25" >5</text>
<line x1="200.70" y1="475.60" x2="200.70" y2="479.40" stroke="#1e1e1e" stroke-width="1.1"/>
<text x="200.70" y="488.20" font-size="7.3" text-anchor="middle" font-weight="normal" fill="#2b2b2b" stroke="#2b2b2b" stroke-width="0.25" >6</text>
<line x1="223.95" y1="475.60" x2="223.95" y2="479.40" stroke="#1e1e1e" stroke-width="1.1"/>
<text x="223.95" y="488.20" font-size="7.3" text-anchor="middle" font-weight="normal" fill="#2b2b2b" stroke="#2b2b2b" stroke-width="0.25" >7</text>
<line x1="247.20" y1="475.60" x2="247.20" y2="479.40" stroke="#1e1e1e" stroke-width="1.1"/>
<text x="247.20" y="488.20" font-size="7.3" text-anchor="middle" font-weight="normal" fill="#2b2b2b" stroke="#2b2b2b" stroke-width="0.25" >8</text>
<text x="154.40" y="501.20" font-size="8.8" text-anchor="middle" fill="#2b2b2b" stroke="#2b2b2b" stroke-width="0.5" textLength="15" lengthAdjust="spacingAndGlyphs">Years</text>
<text x="0" y="0" font-size="8" text-anchor="middle" fill="#2b2b2b" stroke="#2b2b2b" stroke-width="0.35" transform="translate(20.10,394.80) rotate(-90)" textLength="53" lengthAdjust="spacingAndGlyphs">Survival probability</text>
<text x="61.20" y="513.00" font-size="7.7" text-anchor="middle" font-weight="normal" fill="#2b2b2b" stroke="#2b2b2b" stroke-width="0.25" >49</text>
<text x="84.45" y="513.00" font-size="7.7" text-anchor="middle" font-weight="normal" fill="#2b2b2b" stroke="#2b2b2b" stroke-width="0.25" >29</text>
<text x="107.70" y="513.00" font-size="7.7" text-anchor="middle" font-weight="normal" fill="#2b2b2b" stroke="#2b2b2b" stroke-width="0.25" >25</text>
<text x="130.95" y="513.00" font-size="7.7" text-anchor="middle" font-weight="normal" fill="#2b2b2b" stroke="#2b2b2b" stroke-width="0.25" >22</text>
<text x="154.20" y="513.00" font-size="7.7" text-anchor="middle" font-weight="normal" fill="#2b2b2b" stroke="#2b2b2b" stroke-width="0.25" >18</text>
<text x="177.45" y="513.00" font-size="7.7" text-anchor="middle" font-weight="normal" fill="#2b2b2b" stroke="#2b2b2b" stroke-width="0.25" >16</text>
<text x="200.70" y="513.00" font-size="7.7" text-anchor="middle" font-weight="normal" fill="#2b2b2b" stroke="#2b2b2b" stroke-width="0.25" >14</text>
<text x="223.95" y="513.00" font-size="7.7" text-anchor="middle" font-weight="normal" fill="#2b2b2b" stroke="#2b2b2b" stroke-width="0.25" >12</text>
<text x="247.20" y="513.00" font-size="7.7" text-anchor="middle" font-weight="normal" fill="#2b2b2b" stroke="#2b2b2b" stroke-width="0.25" >9</text>
<text x="61.20" y="524.50" font-size="7.7" text-anchor="middle" font-weight="normal" fill="#2b2b2b" stroke="#2b2b2b" stroke-width="0.25" >95</text>
<text x="84.45" y="524.50" font-size="7.7" text-anchor="middle" font-weight="normal" fill="#2b2b2b" stroke="#2b2b2b" stroke-width="0.25" >86</text>
<text x="107.70" y="524.50" font-size="7.7" text-anchor="middle" font-weight="normal" fill="#2b2b2b" stroke="#2b2b2b" stroke-width="0.25" >79</text>
<text x="130.95" y="524.50" font-size="7.7" text-anchor="middle" font-weight="normal" fill="#2b2b2b" stroke="#2b2b2b" stroke-width="0.25" >70</text>
<text x="154.20" y="524.50" font-size="7.7" text-anchor="middle" font-weight="normal" fill="#2b2b2b" stroke="#2b2b2b" stroke-width="0.25" >63</text>
<text x="177.45" y="524.50" font-size="7.7" text-anchor="middle" font-weight="normal" fill="#2b2b2b" stroke="#2b2b2b" stroke-width="0.25" >52</text>
<text x="200.70" y="524.50" font-size="7.7" text-anchor="middle" font-weight="normal" fill="#2b2b2b" stroke="#2b2b2b" stroke-width="0.25" >44</text>
<text x="223.95" y="524.50" font-size="7.7" text-anchor="middle" font-weight="normal" fill="#2b2b2b" stroke="#2b2b2b" stroke-width="0.25" >36</text>
<text x="247.20" y="524.50" font-size="7.7" text-anchor="middle" font-weight="normal" fill="#2b2b2b" stroke="#2b2b2b" stroke-width="0.25" >31</text>
<text x="61.20" y="536.20" font-size="7.7" text-anchor="middle" font-weight="normal" fill="#2b2b2b" stroke="#2b2b2b" stroke-width="0.25" >45.7</text>
<text x="84.45" y="536.20" font-size="7.7" text-anchor="middle" font-weight="normal" fill="#2b2b2b" stroke="#2b2b2b" stroke-width="0.25" >39.5</text>
<text x="107.70" y="536.20" font-size="7.7" text-anchor="middle" font-weight="normal" fill="#2b2b2b" stroke="#2b2b2b" stroke-width="0.25" >30.8</text>
<text x="130.95" y="536.20" font-size="7.7" text-anchor="middle" font-weight="normal" fill="#2b2b2b" stroke="#2b2b2b" stroke-width="0.25" >26.8</text>
<text x="154.20" y="536.20" font-size="7.7" text-anchor="middle" font-weight="normal" fill="#2b2b2b" stroke="#2b2b2b" stroke-width="0.25" >17.6</text>
<text x="177.45" y="536.20" font-size="7.7" text-anchor="middle" font-weight="normal" fill="#2b2b2b" stroke="#2b2b2b" stroke-width="0.25" >14.5</text>
<text x="200.70" y="536.20" font-size="7.7" text-anchor="middle" font-weight="normal" fill="#2b2b2b" stroke="#2b2b2b" stroke-width="0.25" >13.6</text>
<text x="223.95" y="536.20" font-size="7.7" text-anchor="middle" font-weight="normal" fill="#2b2b2b" stroke="#2b2b2b" stroke-width="0.25" >8.3</text>
<text x="247.20" y="536.20" font-size="7.7" text-anchor="middle" font-weight="normal" fill="#2b2b2b" stroke="#2b2b2b" stroke-width="0.25" >4.4</text>
<line x1="33.80" y1="510.30" x2="46.60" y2="510.30" stroke="#99506a" stroke-width="1.0" stroke-dasharray="1.5 2.1"/>
<line x1="33.80" y1="521.80" x2="46.60" y2="521.80" stroke="#4f8050" stroke-width="1.0" stroke-dasharray="1.5 2.1"/>
<line x1="33.80" y1="533.50" x2="46.60" y2="533.50" stroke="#4f88ac" stroke-width="1.1"/>
<text x="153.40" y="547.30" font-size="7.35" text-anchor="middle" font-weight="normal" fill="#2b2b2b" stroke="#2b2b2b" stroke-width="0.25" >Numbers at risk</text>
<path d="M61.5,322.5 H76.5 V324.5 H78.5 V328.5 H84.5 V334.5 H85.5 V336.5 H86.5 V341.5 H91.5 V342.5 H130.5 V342.5 H135.5 V354.5 H140.5 V356.5 H161.5 V364.5 H168.5 V371.5 H213.5 V373.5 H224.5 V378.5 H227.5 V399.5 H238.5" fill="none" stroke="#62abd0" stroke-width="1.0" stroke-linejoin="miter"/>
<path d="M61.90,322.40 L68.80,329.60 L76.50,334.20 L85.80,337.30 L90.40,340.40 L101.00,342.70 L130.00,343.75 L145.00,345.50 L158.75,347.50 L178.75,350.00 L213.75,350.00 L216.25,353.75 L218.75,355.75 L246.25,355.75" fill="none" stroke="#4f8050" stroke-width="1.0" stroke-linejoin="miter" stroke-dasharray="1.5 2.1"/>
<clipPath id="cp5"><rect x="90" y="0" width="430" height="556"/></clipPath>
<path d="M61.90,322.40 L68.80,329.60 L76.50,334.20 L85.80,337.30 L90.40,340.40 L101.00,342.70 L130.00,343.75 L145.00,345.50 L158.75,347.50 L178.75,350.00 L213.75,350.00 L216.25,353.75 L218.75,355.75 L246.25,355.75" fill="none" stroke="#222" stroke-opacity="0.42" stroke-width="1.0" stroke-dasharray="1.5 2.1" clip-path="url(#cp5)"/>
<path d="M61.90,322.40 L64.20,327.30 L66.50,342.70 L68.80,355.00 L71.90,364.00 L73.50,369.20 L78.00,374.60 L83.50,381.50 L99.60,381.50 L99.60,384.60 L107.30,385.40 L107.30,388.20 L122.70,388.20 L122.70,391.50 L133.75,391.50 L133.75,394.50 L153.75,394.50 L153.75,399.25 L177.50,399.25 L177.50,403.75 L245.00,403.75" fill="none" stroke="#99506a" stroke-width="1.0" stroke-linejoin="miter" stroke-dasharray="1.5 2.1"/>
<clipPath id="cp6"><rect x="83" y="0" width="437" height="556"/></clipPath>
<path d="M61.90,322.40 L64.20,327.30 L66.50,342.70 L68.80,355.00 L71.90,364.00 L73.50,369.20 L78.00,374.60 L83.50,381.50 L99.60,381.50 L99.60,384.60 L107.30,385.40 L107.30,388.20 L122.70,388.20 L122.70,391.50 L133.75,391.50 L133.75,394.50 L153.75,394.50 L153.75,399.25 L177.50,399.25 L177.50,403.75 L245.00,403.75" fill="none" stroke="#222" stroke-opacity="0.42" stroke-width="1.0" stroke-dasharray="1.5 2.1" clip-path="url(#cp6)"/>
<text x="127.80" y="435.30" font-size="7.0" text-anchor="start" font-weight="normal" fill="#2b2b2b" stroke="#2b2b2b" stroke-width="0.25" >MIPSS70: Intermediate</text>
<line x1="127.80" y1="443.20" x2="139.00" y2="443.20" stroke="#62abd0" stroke-width="1.4"/>
<text x="142.50" y="445.90" font-size="7.0" text-anchor="start" font-weight="normal" fill="#2b2b2b" stroke="#2b2b2b" stroke-width="0.25" >no-HSCT</text>
<line x1="127.80" y1="454.40" x2="139.00" y2="454.40" stroke="#5c985c" stroke-width="1.0" stroke-dasharray="1.8 1.8"/>
<text x="142.80" y="456.80" font-size="7.0" text-anchor="start" font-weight="normal" fill="#2b2b2b" stroke="#2b2b2b" stroke-width="0.25" >HSCT wit MTSS Low-Int</text>
<line x1="127.80" y1="465.40" x2="139.00" y2="465.40" stroke="#b44060" stroke-width="1.0" stroke-dasharray="1.8 1.8"/>
<text x="142.80" y="467.80" font-size="7.0" text-anchor="start" font-weight="normal" fill="#2b2b2b" stroke="#2b2b2b" stroke-width="0.25" >HSCT wit MTSS High-Very high</text>
<text x="267.80" y="312.10" font-size="10.8" text-anchor="start" font-weight="bold" fill="#111" stroke="#111" stroke-width="0.25" >D</text>
<line x1="313.20" y1="319.80" x2="313.20" y2="476.30" stroke="#1e1e1e" stroke-width="1.5"/>
<line x1="310.00" y1="322.50" x2="313.20" y2="322.50" stroke="#1e1e1e" stroke-width="1.1"/>
<text x="307.20" y="325.00" font-size="8" text-anchor="end" font-weight="normal" fill="#2b2b2b" stroke="#2b2b2b" stroke-width="0.25" textLength="19.03" lengthAdjust="spacingAndGlyphs">100%</text>
<line x1="310.00" y1="358.95" x2="313.20" y2="358.95" stroke="#1e1e1e" stroke-width="1.1"/>
<text x="307.20" y="361.45" font-size="8" text-anchor="end" font-weight="normal" fill="#2b2b2b" stroke="#2b2b2b" stroke-width="0.25" textLength="14.89" lengthAdjust="spacingAndGlyphs">75%</text>
<line x1="310.00" y1="395.40" x2="313.20" y2="395.40" stroke="#1e1e1e" stroke-width="1.1"/>
<text x="307.20" y="397.90" font-size="8" text-anchor="end" font-weight="normal" fill="#2b2b2b" stroke="#2b2b2b" stroke-width="0.25" textLength="14.89" lengthAdjust="spacingAndGlyphs">50%</text>
<line x1="310.00" y1="431.85" x2="313.20" y2="431.85" stroke="#1e1e1e" stroke-width="1.1"/>
<text x="307.20" y="434.35" font-size="8" text-anchor="end" font-weight="normal" fill="#2b2b2b" stroke="#2b2b2b" stroke-width="0.25" textLength="14.89" lengthAdjust="spacingAndGlyphs">25%</text>
<line x1="310.00" y1="468.30" x2="313.20" y2="468.30" stroke="#1e1e1e" stroke-width="1.1"/>
<text x="307.20" y="470.80" font-size="8" text-anchor="end" font-weight="normal" fill="#2b2b2b" stroke="#2b2b2b" stroke-width="0.25" textLength="10.75" lengthAdjust="spacingAndGlyphs">0%</text>
<line x1="312.45" y1="475.60" x2="511.80" y2="475.60" stroke="#1e1e1e" stroke-width="1.5"/>
<line x1="322.40" y1="475.60" x2="322.40" y2="479.40" stroke="#1e1e1e" stroke-width="1.1"/>
<text x="322.40" y="488.20" font-size="7.3" text-anchor="middle" font-weight="normal" fill="#2b2b2b" stroke="#2b2b2b" stroke-width="0.25" >0</text>
<line x1="345.65" y1="475.60" x2="345.65" y2="479.40" stroke="#1e1e1e" stroke-width="1.1"/>
<text x="345.65" y="488.20" font-size="7.3" text-anchor="middle" font-weight="normal" fill="#2b2b2b" stroke="#2b2b2b" stroke-width="0.25" >1</text>
<line x1="368.90" y1="475.60" x2="368.90" y2="479.40" stroke="#1e1e1e" stroke-width="1.1"/>
<text x="368.90" y="488.20" font-size="7.3" text-anchor="middle" font-weight="normal" fill="#2b2b2b" stroke="#2b2b2b" stroke-width="0.25" >2</text>
<line x1="392.15" y1="475.60" x2="392.15" y2="479.40" stroke="#1e1e1e" stroke-width="1.1"/>
<text x="392.15" y="488.20" font-size="7.3" text-anchor="middle" font-weight="normal" fill="#2b2b2b" stroke="#2b2b2b" stroke-width="0.25" >3</text>
<line x1="415.40" y1="475.60" x2="415.40" y2="479.40" stroke="#1e1e1e" stroke-width="1.1"/>
<text x="415.40" y="488.20" font-size="7.3" text-anchor="middle" font-weight="normal" fill="#2b2b2b" stroke="#2b2b2b" stroke-width="0.25" >4</text>
<line x1="438.65" y1="475.60" x2="438.65" y2="479.40" stroke="#1e1e1e" stroke-width="1.1"/>
<text x="438.65" y="488.20" font-size="7.3" text-anchor="middle" font-weight="normal" fill="#2b2b2b" stroke="#2b2b2b" stroke-width="0.25" >5</text>
<line x1="461.90" y1="475.60" x2="461.90" y2="479.40" stroke="#1e1e1e" stroke-width="1.1"/>
<text x="461.90" y="488.20" font-size="7.3" text-anchor="middle" font-weight="normal" fill="#2b2b2b" stroke="#2b2b2b" stroke-width="0.25" >6</text>
<line x1="485.15" y1="475.60" x2="485.15" y2="479.40" stroke="#1e1e1e" stroke-width="1.1"/>
<text x="485.15" y="488.20" font-size="7.3" text-anchor="middle" font-weight="normal" fill="#2b2b2b" stroke="#2b2b2b" stroke-width="0.25" >7</text>
<line x1="508.40" y1="475.60" x2="508.40" y2="479.40" stroke="#1e1e1e" stroke-width="1.1"/>
<text x="508.40" y="488.20" font-size="7.3" text-anchor="middle" font-weight="normal" fill="#2b2b2b" stroke="#2b2b2b" stroke-width="0.25" >8</text>
<text x="415.60" y="501.20" font-size="8.8" text-anchor="middle" fill="#2b2b2b" stroke="#2b2b2b" stroke-width="0.5" textLength="15" lengthAdjust="spacingAndGlyphs">Years</text>
<text x="0" y="0" font-size="8" text-anchor="middle" fill="#2b2b2b" stroke="#2b2b2b" stroke-width="0.35" transform="translate(281.30,394.80) rotate(-90)" textLength="53" lengthAdjust="spacingAndGlyphs">Survival probability</text>
<text x="322.40" y="513.00" font-size="7.7" text-anchor="middle" font-weight="normal" fill="#2b2b2b" stroke="#2b2b2b" stroke-width="0.25" >44</text>
<text x="345.65" y="513.00" font-size="7.7" text-anchor="middle" font-weight="normal" fill="#2b2b2b" stroke="#2b2b2b" stroke-width="0.25" >19</text>
<text x="368.90" y="513.00" font-size="7.7" text-anchor="middle" font-weight="normal" fill="#2b2b2b" stroke="#2b2b2b" stroke-width="0.25" >16</text>
<text x="392.15" y="513.00" font-size="7.7" text-anchor="middle" font-weight="normal" fill="#2b2b2b" stroke="#2b2b2b" stroke-width="0.25" >14</text>
<text x="415.40" y="513.00" font-size="7.7" text-anchor="middle" font-weight="normal" fill="#2b2b2b" stroke="#2b2b2b" stroke-width="0.25" >12</text>
<text x="438.65" y="513.00" font-size="7.7" text-anchor="middle" font-weight="normal" fill="#2b2b2b" stroke="#2b2b2b" stroke-width="0.25" >9</text>
<text x="461.90" y="513.00" font-size="7.7" text-anchor="middle" font-weight="normal" fill="#2b2b2b" stroke="#2b2b2b" stroke-width="0.25" >7</text>
<text x="485.15" y="513.00" font-size="7.7" text-anchor="middle" font-weight="normal" fill="#2b2b2b" stroke="#2b2b2b" stroke-width="0.25" >6</text>
<text x="508.40" y="513.00" font-size="7.7" text-anchor="middle" font-weight="normal" fill="#2b2b2b" stroke="#2b2b2b" stroke-width="0.25" >4</text>
<text x="322.40" y="524.50" font-size="7.7" text-anchor="middle" font-weight="normal" fill="#2b2b2b" stroke="#2b2b2b" stroke-width="0.25" >36</text>
<text x="345.65" y="524.50" font-size="7.7" text-anchor="middle" font-weight="normal" fill="#2b2b2b" stroke="#2b2b2b" stroke-width="0.25" >26</text>
<text x="368.90" y="524.50" font-size="7.7" text-anchor="middle" font-weight="normal" fill="#2b2b2b" stroke="#2b2b2b" stroke-width="0.25" >22</text>
<text x="392.15" y="524.50" font-size="7.7" text-anchor="middle" font-weight="normal" fill="#2b2b2b" stroke="#2b2b2b" stroke-width="0.25" >19</text>
<text x="415.40" y="524.50" font-size="7.7" text-anchor="middle" font-weight="normal" fill="#2b2b2b" stroke="#2b2b2b" stroke-width="0.25" >16</text>
<text x="438.65" y="524.50" font-size="7.7" text-anchor="middle" font-weight="normal" fill="#2b2b2b" stroke="#2b2b2b" stroke-width="0.25" >13</text>
<text x="461.90" y="524.50" font-size="7.7" text-anchor="middle" font-weight="normal" fill="#2b2b2b" stroke="#2b2b2b" stroke-width="0.25" >12</text>
<text x="485.15" y="524.50" font-size="7.7" text-anchor="middle" font-weight="normal" fill="#2b2b2b" stroke="#2b2b2b" stroke-width="0.25" >10</text>
<text x="508.40" y="524.50" font-size="7.7" text-anchor="middle" font-weight="normal" fill="#2b2b2b" stroke="#2b2b2b" stroke-width="0.25" >8</text>
<text x="322.40" y="536.20" font-size="7.7" text-anchor="middle" font-weight="normal" fill="#2b2b2b" stroke="#2b2b2b" stroke-width="0.25" >38.7</text>
<text x="345.65" y="536.20" font-size="7.7" text-anchor="middle" font-weight="normal" fill="#2b2b2b" stroke="#2b2b2b" stroke-width="0.25" >29.0</text>
<text x="368.90" y="536.20" font-size="7.7" text-anchor="middle" font-weight="normal" fill="#2b2b2b" stroke="#2b2b2b" stroke-width="0.25" >22.0</text>
<text x="392.15" y="536.20" font-size="7.7" text-anchor="middle" font-weight="normal" fill="#2b2b2b" stroke="#2b2b2b" stroke-width="0.25" >16.7</text>
<text x="415.40" y="536.20" font-size="7.7" text-anchor="middle" font-weight="normal" fill="#2b2b2b" stroke="#2b2b2b" stroke-width="0.25" >11.0</text>
<text x="438.65" y="536.20" font-size="7.7" text-anchor="middle" font-weight="normal" fill="#2b2b2b" stroke="#2b2b2b" stroke-width="0.25" >11.0</text>
<text x="461.90" y="536.20" font-size="7.7" text-anchor="middle" font-weight="normal" fill="#2b2b2b" stroke="#2b2b2b" stroke-width="0.25" >5.3</text>
<text x="485.15" y="536.20" font-size="7.7" text-anchor="middle" font-weight="normal" fill="#2b2b2b" stroke="#2b2b2b" stroke-width="0.25" >4.4</text>
<text x="508.40" y="536.20" font-size="7.7" text-anchor="middle" font-weight="normal" fill="#2b2b2b" stroke="#2b2b2b" stroke-width="0.25" >3.9</text>
<line x1="295.00" y1="510.30" x2="307.80" y2="510.30" stroke="#99506a" stroke-width="1.0" stroke-dasharray="1.5 2.1"/>
<line x1="295.00" y1="521.80" x2="307.80" y2="521.80" stroke="#4f8050" stroke-width="1.0" stroke-dasharray="1.5 2.1"/>
<line x1="295.00" y1="533.50" x2="307.80" y2="533.50" stroke="#4f88ac" stroke-width="1.1"/>
<text x="414.60" y="547.30" font-size="7.35" text-anchor="middle" font-weight="normal" fill="#2b2b2b" stroke="#2b2b2b" stroke-width="0.25" >Numbers at risk</text>
<path d="M322.5,322.5 H328.5 V328.5 L329.5,331.5 L332.5,333.5 L333.5,335.5 H335.5 V337.5 H345.5 V341.5 H348.5 V349.5 L352.5,352.5 H364.5 V364.5 H378.5 V366.5 H387.5 V384.5 H397.5 V387.5 H399.5 V396.5 H402.5 V404.5 H440.5 V418.5 H443.5 V433.5 H472.5 V439.5 H506.5" fill="none" stroke="#62abd0" stroke-width="1.0" stroke-linejoin="miter"/>
<path d="M322.30,322.40 L323.80,330.20 L325.90,333.50 L328.10,337.00 L330.20,342.10 L334.50,347.50 L338.90,354.00 L342.10,356.50 L347.30,366.20 L352.00,370.70 L378.50,370.70 L379.50,374.20 L387.70,376.00 L389.50,380.00 L427.50,380.00 L427.50,385.75 L498.75,385.75" fill="none" stroke="#4f8050" stroke-width="1.0" stroke-linejoin="miter" stroke-dasharray="1.5 2.1"/>
<clipPath id="cp7"><rect x="352" y="0" width="168" height="556"/></clipPath>
<path d="M322.30,322.40 L323.80,330.20 L325.90,333.50 L328.10,337.00 L330.20,342.10 L334.50,347.50 L338.90,354.00 L342.10,356.50 L347.30,366.20 L352.00,370.70 L378.50,370.70 L379.50,374.20 L387.70,376.00 L389.50,380.00 L427.50,380.00 L427.50,385.75 L498.75,385.75" fill="none" stroke="#222" stroke-opacity="0.22" stroke-width="1.0" stroke-dasharray="1.5 2.1" clip-path="url(#cp7)"/>
<path d="M322.30,322.40 L323.00,325.90 L324.10,334.50 L324.80,343.20 L325.90,349.70 L327.00,355.40 L327.50,361.50 L330.40,372.30 L332.00,387.70 L338.80,387.70 L338.80,395.40 L342.70,404.60 L352.00,404.60 L355.80,411.80 L507.00,411.80" fill="none" stroke="#99506a" stroke-width="1.0" stroke-linejoin="miter" stroke-dasharray="1.5 2.1"/>
<clipPath id="cp8"><rect x="332" y="0" width="188" height="556"/></clipPath>
<path d="M322.30,322.40 L323.00,325.90 L324.10,334.50 L324.80,343.20 L325.90,349.70 L327.00,355.40 L327.50,361.50 L330.40,372.30 L332.00,387.70 L338.80,387.70 L338.80,395.40 L342.70,404.60 L352.00,404.60 L355.80,411.80 L507.00,411.80" fill="none" stroke="#222" stroke-opacity="0.22" stroke-width="1.0" stroke-dasharray="1.5 2.1" clip-path="url(#cp8)"/>
<text x="394.40" y="328.70" font-size="7.0" text-anchor="start" font-weight="normal" fill="#2b2b2b" stroke="#2b2b2b" stroke-width="0.25" >MIPSS70: High</text>
<line x1="394.40" y1="337.00" x2="405.60" y2="337.00" stroke="#62abd0" stroke-width="1.4"/>
<text x="409.00" y="339.90" font-size="7.0" text-anchor="start" font-weight="normal" fill="#2b2b2b" stroke="#2b2b2b" stroke-width="0.25" >no-HSCT</text>
<line x1="394.40" y1="348.20" x2="405.60" y2="348.20" stroke="#5c985c" stroke-width="1.0" stroke-dasharray="1.8 1.8"/>
<text x="409.00" y="350.70" font-size="7.0" text-anchor="start" font-weight="normal" fill="#2b2b2b" stroke="#2b2b2b" stroke-width="0.25" >HSCT wit MTSS Low-Int</text>
<line x1="394.40" y1="359.30" x2="405.60" y2="359.30" stroke="#b44060" stroke-width="1.0" stroke-dasharray="1.8 1.8"/>
<text x="409.00" y="361.80" font-size="7.0" text-anchor="start" font-weight="normal" fill="#2b2b2b" stroke="#2b2b2b" stroke-width="0.25" >HSCT wit MTSS High-Very high</text>
<line x1="69.5" y1="25.6" x2="69.5" y2="27.4" stroke="#333" stroke-width="1.2" stroke-opacity="0.55"/>
<line x1="90.5" y1="25.6" x2="90.5" y2="27.4" stroke="#333" stroke-width="1.2" stroke-opacity="0.55"/>
<line x1="126.5" y1="25.6" x2="126.5" y2="27.4" stroke="#333" stroke-width="1.2" stroke-opacity="0.55"/>
<line x1="142.5" y1="25.6" x2="142.5" y2="27.4" stroke="#333" stroke-width="1.2" stroke-opacity="0.55"/>
<line x1="77.5" y1="34.6" x2="77.5" y2="36.4" stroke="#333" stroke-width="1.2" stroke-opacity="0.55"/>
<line x1="119.5" y1="34.6" x2="119.5" y2="36.4" stroke="#333" stroke-width="1.2" stroke-opacity="0.55"/>
<line x1="136.5" y1="34.6" x2="136.5" y2="36.4" stroke="#333" stroke-width="1.2" stroke-opacity="0.55"/>
<line x1="182.5" y1="34.6" x2="182.5" y2="36.4" stroke="#333" stroke-width="1.2" stroke-opacity="0.55"/>
<line x1="203.5" y1="34.6" x2="203.5" y2="36.4" stroke="#333" stroke-width="1.2" stroke-opacity="0.55"/>
<line x1="220.5" y1="49.6" x2="220.5" y2="51.4" stroke="#333" stroke-width="1.2" stroke-opacity="0.55"/>
<line x1="228.5" y1="49.6" x2="228.5" y2="51.4" stroke="#333" stroke-width="1.2" stroke-opacity="0.55"/>
<line x1="98.5" y1="44.6" x2="98.5" y2="46.4" stroke="#333" stroke-width="1.2" stroke-opacity="0.55"/>
<line x1="110.5" y1="46.6" x2="110.5" y2="48.4" stroke="#333" stroke-width="1.2" stroke-opacity="0.55"/>
<line x1="145.5" y1="59.6" x2="145.5" y2="61.4" stroke="#333" stroke-width="1.2" stroke-opacity="0.55"/>
<line x1="154.5" y1="59.6" x2="154.5" y2="61.4" stroke="#333" stroke-width="1.2" stroke-opacity="0.55"/>
<line x1="370.5" y1="37.6" x2="370.5" y2="39.4" stroke="#333" stroke-width="1.2" stroke-opacity="0.55"/>
<line x1="386.5" y1="37.6" x2="386.5" y2="39.4" stroke="#333" stroke-width="1.2" stroke-opacity="0.55"/>
<line x1="397.5" y1="37.6" x2="397.5" y2="39.4" stroke="#333" stroke-width="1.2" stroke-opacity="0.55"/>
<line x1="403.5" y1="37.6" x2="403.5" y2="39.4" stroke="#333" stroke-width="1.2" stroke-opacity="0.55"/>
<line x1="350.5" y1="48.6" x2="350.5" y2="50.4" stroke="#333" stroke-width="1.2" stroke-opacity="0.55"/>
<line x1="355.5" y1="48.6" x2="355.5" y2="50.4" stroke="#333" stroke-width="1.2" stroke-opacity="0.55"/>
<line x1="359.5" y1="48.6" x2="359.5" y2="50.4" stroke="#333" stroke-width="1.2" stroke-opacity="0.55"/>
<line x1="390.5" y1="69.6" x2="390.5" y2="71.4" stroke="#333" stroke-width="1.2" stroke-opacity="0.55"/>
<line x1="70.5" y1="321.6" x2="70.5" y2="323.4" stroke="#333" stroke-width="1.2" stroke-opacity="0.55"/>
<line x1="98.5" y1="341.6" x2="98.5" y2="343.4" stroke="#333" stroke-width="1.2" stroke-opacity="0.55"/>
<line x1="110.5" y1="341.6" x2="110.5" y2="343.4" stroke="#333" stroke-width="1.2" stroke-opacity="0.55"/>
<line x1="144.5" y1="355.6" x2="144.5" y2="357.4" stroke="#333" stroke-width="1.2" stroke-opacity="0.55"/>
<line x1="154.5" y1="355.6" x2="154.5" y2="357.4" stroke="#333" stroke-width="1.2" stroke-opacity="0.55"/>
<line x1="216.5" y1="372.6" x2="216.5" y2="374.4" stroke="#333" stroke-width="1.2" stroke-opacity="0.55"/>
<line x1="238.5" y1="398.6" x2="238.5" y2="400.4" stroke="#333" stroke-width="1.2" stroke-opacity="0.55"/>
<line x1="354.5" y1="351.6" x2="354.5" y2="353.4" stroke="#333" stroke-width="1.2" stroke-opacity="0.55"/>
<line x1="439.5" y1="403.6" x2="439.5" y2="405.4" stroke="#333" stroke-width="1.2" stroke-opacity="0.55"/>
</g>
<rect x="0.5" y="0.5" width="519" height="555" fill="none" stroke="#3c3c3c" stroke-width="1"/>
</svg></body></html>
